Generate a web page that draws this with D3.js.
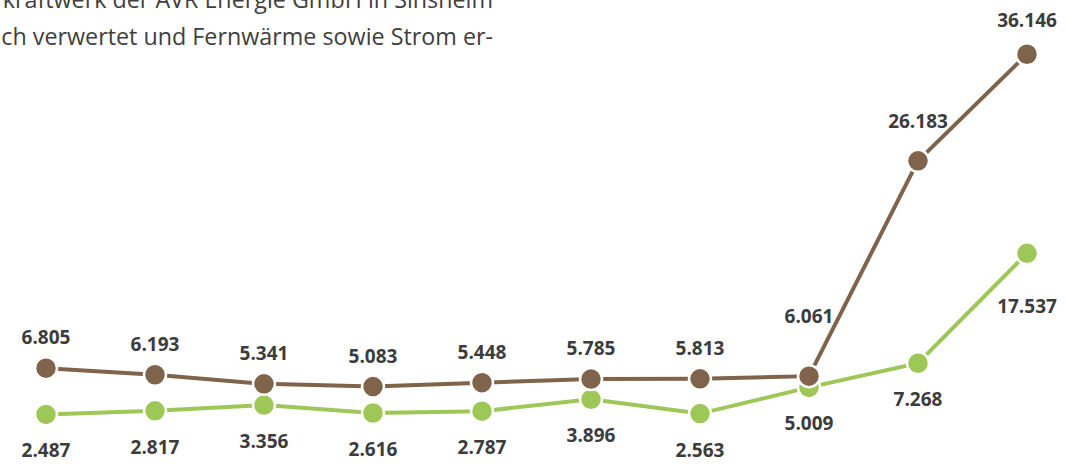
<!DOCTYPE html>
<html>
<head>
<meta charset="utf-8">
<script src="https://cdn.jsdelivr.net/npm/d3@7"></script>
<style>
  body { margin: 0; background: #fff; overflow: hidden; }
  svg { display: block; font-family: "Open Sans", "Noto Sans", sans-serif; }
</style>
</head>
<body>
<div id="chart"></div>
<script>
// Two series, ten periods (x labels are outside the visible crop)
const periods = ["1", "2", "3", "4", "5", "6", "7", "8", "9", "10"];
const brownValues = [6.805, 6.193, 5.341, 5.083, 5.448, 5.785, 5.813, 6.061, 26.183, 36.146];
const greenValues = [2.487, 2.817, 3.356, 2.616, 2.787, 3.896, 2.563, 5.009, 7.268, 17.537];
const introLines = [
  "kraftwerk der AVR Energie GmbH in Sinsheim",
  "ch verwertet und Fernwärme sowie Strom er-"
];

const fmt = v => v.toFixed(3);

const width = 1066, height = 466;
const svg = d3.select("#chart").append("svg")
  .attr("width", width)
  .attr("height", height);

// Paragraph text, cut off at the left edge (as in the source crop)
svg.append("g")
  .selectAll("text")
  .data(introLines)
  .join("text")
  .attr("x", 493)
  .attr("y", (d, i) => 8 + i * 37)
  .attr("text-anchor", "end")
  .style("font-size", "23.3px")
  .style("fill", "#404040")
  .text(d => d);

const x = d3.scalePoint()
  .domain(periods)
  .range([46, 1027]);

const y = d3.scaleLinear()
  .domain([0, 40])
  .range([441, 13]);

const series = [
  { name: "green", values: greenValues, color: "#9dc756", labelDy: 43 },
  { name: "brown", values: brownValues, color: "#80634b", labelDy: -24 }
];

// special label nudges where labels would collide with lines
const labelNudge = {
  brown: { 7: -29, 8: -9, 9: -3 },
  green: { 9: 17 }
};

const line = d3.line()
  .x((d, i) => x(periods[i]))
  .y(d => y(d));

series.forEach(s => {
  const g = svg.append("g").attr("class", "series-" + s.name);

  g.append("path")
    .datum(s.values)
    .attr("fill", "none")
    .attr("stroke", s.color)
    .attr("stroke-width", 4)
    .attr("d", line);

  g.selectAll("circle")
    .data(s.values)
    .join("circle")
    .attr("cx", (d, i) => x(periods[i]))
    .attr("cy", d => y(d))
    .attr("r", 11)
    .attr("fill", s.color)
    .attr("stroke", "#fff")
    .attr("stroke-width", 2.5);
});

// value labels on top of everything
series.forEach(s => {
  const nudge = labelNudge[s.name];
  svg.append("g")
    .selectAll("text")
    .data(s.values)
    .join("text")
    .attr("x", (d, i) => x(periods[i]))
    .attr("y", (d, i) => y(d) + s.labelDy + (nudge[i] || 0))
    .attr("text-anchor", "middle")
    .style("font-size", "19px")
    .style("font-weight", 700)
    .style("fill", "#3c3c3c")
    .text(d => fmt(d));
});
</script>
</body>
</html>
